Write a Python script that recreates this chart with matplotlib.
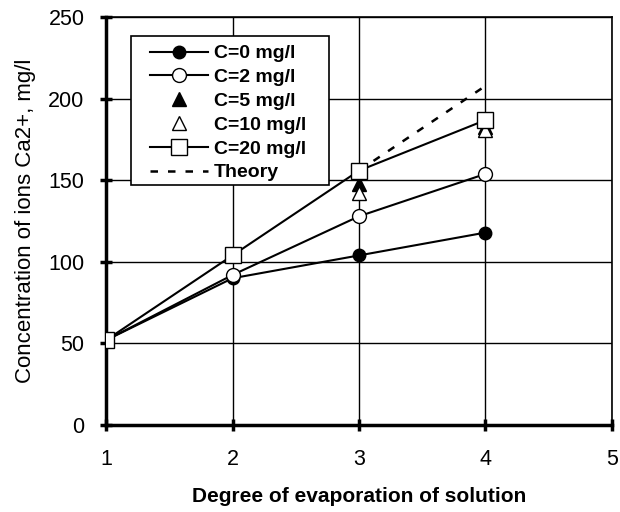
import matplotlib
matplotlib.use("Agg")
import matplotlib.pyplot as plt
from matplotlib.patches import Rectangle

plt.rcParams['font.family'] = ['Liberation Sans', 'DejaVu Sans']

# data
x = [1, 2, 3, 4]
c0 = [52, 90, 104, 118]
c2 = [52, 92, 128, 154]
c5 = [52, 104, 148, 183]
c10 = [52, 104, 142, 181]
c20 = [52, 104, 156, 187]
theory_x = [3, 4]
theory = [156, 208]

fig = plt.figure(figsize=(6.2, 5.12), dpi=100)
ax = fig.add_axes([0.171, 0.17, 0.816, 0.796])

ax.plot(x, c0, '-o', color='black', mfc='black', ms=9, lw=1.5, label='C=0 mg/l', zorder=3)
ax.plot(x, c2, '-o', color='black', mfc='white', ms=10, lw=1.5, label='C=2 mg/l', zorder=3)
ax.plot(x, c5, '^', color='black', mfc='black', ms=10, ls='none', label='C=5 mg/l', zorder=3)
ax.plot(x, c10, '^', color='black', mfc='white', ms=10, ls='none', label='C=10 mg/l', zorder=3)
ax.plot(x, c20, '-s', color='black', mfc='white', ms=11, lw=1.5, label='C=20 mg/l', zorder=4)
ax.plot(theory_x, theory, color='black', ls=(0, (3, 4)), lw=1.8, label='Theory', zorder=2)

ax.set_xlim(1, 5)
ax.set_ylim(0, 250)
ax.set_xticks([1, 2, 3, 4, 5])
ax.set_yticks([0, 50, 100, 150, 200, 250])
ax.grid(True, color='black', lw=1.0)
ax.set_axisbelow(True)

for s in ['left', 'bottom']:
    ax.spines[s].set_linewidth(2.5)
for s in ['top', 'right']:
    ax.spines[s].set_linewidth(1.2)
ax.tick_params(direction='inout', length=9, width=2.5, labelsize=15.5, pad=11)
ax.tick_params(axis='x', pad=13)

ax.set_xlabel('Degree of evaporation of solution', fontsize=15, fontweight='bold', labelpad=12)
ax.set_ylabel('Concentration of ions Ca2+, mg/l', fontsize=16, labelpad=9)

# legend box drawn separately: wider side margins than top/bottom
box = Rectangle((0.05, 0.589), 0.39, 0.366, transform=ax.transAxes, facecolor='white',
                edgecolor='black', lw=1.2, zorder=4.5)
ax.add_patch(box)
leg = ax.legend(loc='upper left', bbox_to_anchor=(0.086, 0.933), frameon=False,
                prop={'weight': 'bold', 'size': 14},
                handlelength=3.0, handletextpad=0.3, labelspacing=0.32,
                borderpad=0, borderaxespad=0)
leg.set_zorder(5)

fig.savefig('out.png', dpi=100)
